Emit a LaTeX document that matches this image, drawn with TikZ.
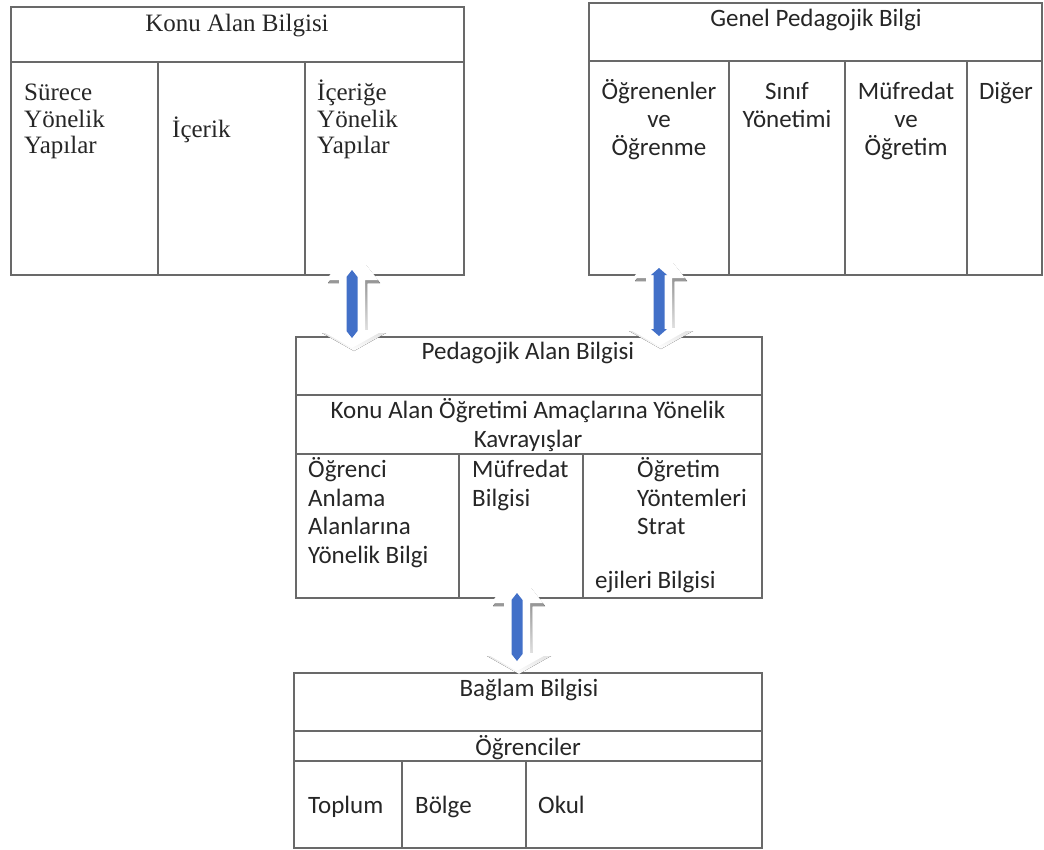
\documentclass[tikz,border=0pt]{standalone}
\usepackage{fontspec}
\setmainfont{Liberation Serif}
\newfontfamily\calfont{Carlito}
\definecolor{ink}{RGB}{38,38,38}
\definecolor{rule}{RGB}{105,105,105}
\definecolor{barblue}{RGB}{66,112,200}
\definecolor{shade}{RGB}{185,185,185}

% outline of the white two-way arrow body
\newcommand\arrowbody{(-26,10) -- (-12,-8) -- (12,-8) -- (26,10) -- (13,10)
  -- (13,60) -- (32,60) -- (0,78) -- (-32,60) -- (-13,60) -- (-13,10) -- cycle}

% two-way arrow between boxes: #1 = centre x, #2 = top y, #3 = half width of the bar tips
\newcommand\twoway[3]{%
  \fill[shade, shift={(#1+2,#2+3)}] \arrowbody;
  \fill[white, shift={(#1,#2)}] \arrowbody;
  \fill[barblue, shift={(#1,#2)}]
    (0,0) -- (#3,7) -- (5.5,7) -- (5.5,61) -- (#3,61) -- (0,68)
    -- (-#3,61) -- (-5.5,61) -- (-5.5,7) -- (-#3,7) -- cycle;
}

\begin{document}
\begin{tikzpicture}[x=1pt,y=-1pt,
  frame/.style={draw=rule, line width=1.5pt},
  serif/.style={font=\fontsize{25}{27}\selectfont, text=ink, inner sep=0},
  sans/.style={font=\calfont\fontsize{25}{29}\selectfont, text=ink, inner sep=0},
  lt/.style={anchor=base west},
  ct/.style={anchor=base}]
\useasboundingbox (0,0) rectangle (1044,849);
\fill[white] (0,0) rectangle (1044,849);

% Konu Alan Bilgisi
\draw[frame] (11,7) rectangle (464,275);
\draw[frame] (11,62) -- (464,62) (158,62) -- (158,275) (305,62) -- (305,275);
\node[serif,ct] (kab) at (237,31) {Konu Alan Bilgisi};
\node[serif,lt] (k1a) at (24,100) {Sürece};
\node[serif,lt] (k1b) at (24,127) {Yönelik};
\node[serif,lt] (k1c) at (24,153) {Yapılar};
\node[serif,lt] (k2) at (172,137) {İçerik};
\node[serif,lt] (k3a) at (317,100) {İçeriğe};
\node[serif,lt] (k3b) at (317,127) {Yönelik};
\node[serif,lt] (k3c) at (317,153) {Yapılar};

% Genel Pedagojik Bilgi
\draw[frame] (589,3) rectangle (1042,275);
\draw[frame] (589,61) -- (1042,61) (729,61) -- (729,275)
  (845,61) -- (845,275) (967,61) -- (967,275);
\node[sans,ct] (gpb) at (816,26) {Genel Pedagojik Bilgi};
\node[sans,ct] (g1a) at (659,99) {Öğrenenler};
\node[sans,ct] (g1b) at (659,127) {ve};
\node[sans,ct] (g1c) at (659,155) {Öğrenme};
\node[sans,ct] (g2a) at (787,99) {Sınıf};
\node[sans,ct] (g2b) at (787,127) {Yönetimi};
\node[sans,ct] (g3a) at (906,99) {Müfredat};
\node[sans,ct] (g3b) at (906,127) {ve};
\node[sans,ct] (g3c) at (906,155) {Öğretim};
\node[sans,ct] (g4) at (1006,99) {Diğer};

% Pedagojik Alan Bilgisi
\draw[frame] (296,337) rectangle (762,598);
\draw[frame] (296,395) -- (762,395) (296,454) -- (762,454)
  (459,454) -- (459,598) (583,454) -- (583,598);
\node[sans,ct] (pab) at (528,359) {Pedagojik Alan Bilgisi};
\node[sans,ct] (pa1) at (528,418) {Konu Alan Öğretimi Amaçlarına Yönelik};
\node[sans,ct] (pa2) at (528,447) {Kavrayışlar};
\node[sans,lt] (p1a) at (308,477) {Öğrenci};
\node[sans,lt] (p1b) at (308,506) {Anlama};
\node[sans,lt] (p1c) at (308,534) {Alanlarına};
\node[sans,lt] (p1d) at (308,563) {Yönelik Bilgi};
\node[sans,lt] (p2a) at (472,477) {Müfredat};
\node[sans,lt] (p2b) at (472,506) {Bilgisi};
\node[sans,lt] (p3a) at (637,477) {Öğretim};
\node[sans,lt] (p3b) at (637,506) {Yöntemleri};
\node[sans,lt] (p3c) at (637,534) {Strat};
\node[sans,lt] (p3d) at (595,588) {ejileri Bilgisi};

% Bağlam Bilgisi
\draw[frame] (294,673) rectangle (762,848);
\draw[frame] (294,731) -- (762,731) (294,761) -- (762,761)
  (402,761) -- (402,848) (526,761) -- (526,848);
\node[sans,ct] (bb) at (529,696) {Bağlam Bilgisi};
\node[sans,ct] (bo) at (528,755) {Öğrenciler};
\node[sans,lt] (b1) at (308,813) {Toplum};
\node[sans,lt] (b2) at (415,813) {Bölge};
\node[sans,lt] (b3) at (538,813) {Okul};

% two-way links between the knowledge areas
\twoway{352}{270}{5.5}
\twoway{659}{268}{8}
\twoway{517}{593}{5.5}
\end{tikzpicture}
\end{document}
